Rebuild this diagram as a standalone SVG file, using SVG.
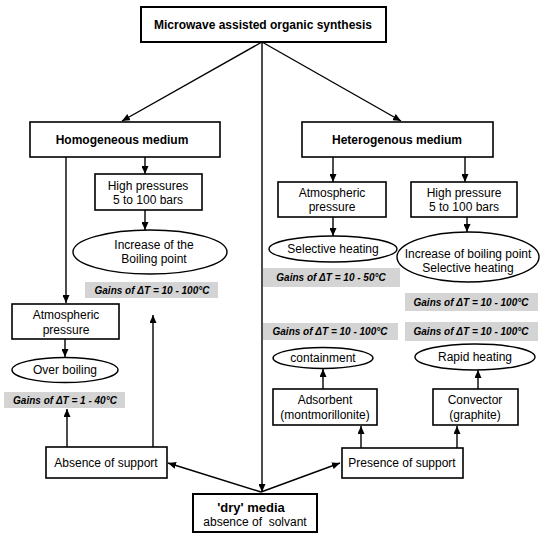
<svg xmlns="http://www.w3.org/2000/svg" width="550" height="538" viewBox="0 0 550 538">
<defs>
<marker id="ah" markerWidth="8" markerHeight="7" refX="8" refY="3.5" orient="auto" markerUnits="userSpaceOnUse">
<path d="M0,0 L8,3.5 L0,7 z" fill="#000"/>
</marker>
<style>
.box{fill:#fff;stroke:#000;stroke-width:1.6}
.tbox{fill:#fff;stroke:#000;stroke-width:2}
.ell{fill:#fff;stroke:#000;stroke-width:1.4}
.gray{fill:#d4d4d4;stroke:none}
.t{font-family:"Liberation Sans",Arial,sans-serif;font-size:12px;fill:#000;text-anchor:middle}
.b{font-weight:bold}
.g{font-family:"Liberation Sans",Arial,sans-serif;font-size:10px;font-weight:bold;font-style:italic;fill:#000;text-anchor:middle}
.c line{stroke:#000;stroke-width:1.4;marker-end:url(#ah)}
</style>
</defs>
<rect width="550" height="538" fill="#fff"/>

<g id="connectors" class="c">
<line x1="262" y1="42" x2="122" y2="121"/>
<line x1="262" y1="42" x2="401" y2="121"/>
<line x1="262" y1="42" x2="262" y2="492"/>
<line x1="66" y1="157" x2="66" y2="303"/>
<line x1="145" y1="157" x2="145" y2="174"/>
<line x1="145" y1="210" x2="145" y2="230"/>
<line x1="65" y1="339" x2="65" y2="357"/>
<line x1="67" y1="447" x2="67" y2="409"/>
<line x1="153" y1="447" x2="153" y2="315"/>
<line x1="261" y1="492" x2="168" y2="463"/>
<line x1="261" y1="492" x2="340" y2="463"/>
<line x1="361" y1="448" x2="361" y2="426"/>
<line x1="457" y1="448" x2="457" y2="426"/>
<line x1="323" y1="389" x2="323" y2="369"/>
<line x1="478" y1="389" x2="478" y2="370"/>
<line x1="333" y1="157" x2="333" y2="182"/>
<line x1="465" y1="157" x2="465" y2="182"/>
<line x1="333" y1="217" x2="333" y2="236"/>
<line x1="467" y1="217" x2="467" y2="232"/>
</g>

<g id="title">
<rect class="tbox" x="141" y="7" width="245" height="35"/>
<text class="t b" x="263" y="29">Microwave assisted organic synthesis</text>
</g>

<g id="homogeneous">
<rect class="box" x="30" y="122" width="190" height="35"/>
<text class="t b" x="122" y="144">Homogeneous medium</text>
</g>

<g id="heterogeneous">
<rect class="box" x="302" y="122" width="191" height="35"/>
<text class="t b" x="397" y="144">Heterogenous medium</text>
</g>

<g id="high-pressures">
<rect class="box" x="95" y="174" width="107" height="36"/>
<text class="t" x="148" y="190">High pressures</text>
<text class="t" x="148" y="204">5 to 100 bars</text>
</g>

<g id="increase-boiling">
<ellipse class="ell" cx="150" cy="252" rx="77" ry="22"/>
<text class="t" x="154" y="249">Increase of the</text>
<text class="t" x="154" y="263">Boiling point</text>
</g>

<g id="gain-homog-hp">
<rect class="gray" x="85" y="282" width="133" height="16"/>
<text class="g" x="152" y="293.5">Gains of ΔT = 10 - 100°C</text>
</g>

<g id="atmos-homog">
<rect class="box" x="12" y="304" width="107" height="35"/>
<text class="t" x="66" y="319">Atmospheric</text>
<text class="t" x="66" y="334">pressure</text>
</g>

<g id="over-boiling">
<ellipse class="ell" cx="65" cy="370" rx="53" ry="12.5"/>
<text class="t" x="65" y="374">Over boiling</text>
</g>

<g id="gain-homog-atm">
<rect class="gray" x="4" y="392" width="121" height="16"/>
<text class="g" x="65" y="403.5">Gains of ΔT = 1 - 40°C</text>
</g>

<g id="absence">
<rect class="box" x="46" y="447" width="121" height="31"/>
<text class="t" x="106" y="467">Absence of support</text>
</g>

<g id="dry-media">
<rect class="tbox" x="193" y="494" width="124" height="38"/>
<text class="t b" x="251" y="512" style="font-size:13px">'dry' media</text>
<text class="t" x="255" y="526" xml:space="preserve">absence of  solvant</text>
</g>

<g id="atmos-hetero">
<rect class="box" x="278" y="182" width="108" height="35"/>
<text class="t" x="332" y="197">Atmospheric</text>
<text class="t" x="332" y="211">pressure</text>
</g>

<g id="high-pressure-hetero">
<rect class="box" x="411" y="182" width="106" height="35"/>
<text class="t" x="464" y="197">High pressure</text>
<text class="t" x="464" y="211">5 to 100 bars</text>
</g>

<g id="selective-heating">
<ellipse class="ell" cx="333" cy="249" rx="64" ry="13"/>
<text class="t" x="333" y="253">Selective heating</text>
</g>

<g id="increase-selective">
<ellipse class="ell" cx="468" cy="257" rx="71" ry="25"/>
<text class="t" x="468" y="258">Increase of boiling point</text>
<text class="t" x="468" y="272">Selective heating</text>
</g>

<g id="gain-hetero-atm">
<rect class="gray" x="263" y="268" width="137" height="19"/>
<text class="g" x="331" y="281">Gains of ΔT = 10 - 50°C</text>
</g>

<g id="gain-hetero-hp">
<rect class="gray" x="405" y="293" width="133" height="18"/>
<text class="g" x="471" y="305.5">Gains of ΔT = 10 - 100°C</text>
</g>

<g id="gain-adsorbent">
<rect class="gray" x="263" y="323" width="135" height="17"/>
<text class="g" x="330" y="335">Gains of ΔT = 10 - 100°C</text>
</g>

<g id="gain-convector">
<rect class="gray" x="405" y="322" width="133" height="19"/>
<text class="g" x="471" y="335">Gains of ΔT = 10 - 100°C</text>
</g>

<g id="containment">
<ellipse class="ell" cx="323" cy="358" rx="50" ry="10.5"/>
<text class="t" x="323" y="362">containment</text>
</g>

<g id="rapid-heating">
<ellipse class="ell" cx="475" cy="357" rx="60" ry="13"/>
<text class="t" x="475" y="361">Rapid heating</text>
</g>

<g id="adsorbent">
<rect class="box" x="273" y="389" width="104" height="36"/>
<text class="t" x="325" y="404">Adsorbent</text>
<text class="t" x="325" y="419">(montmorillonite)</text>
</g>

<g id="convector">
<rect class="box" x="433" y="389" width="85" height="36"/>
<text class="t" x="475" y="404">Convector</text>
<text class="t" x="475" y="419">(graphite)</text>
</g>

<g id="presence">
<rect class="box" x="342" y="448" width="121" height="30"/>
<text class="t" x="402" y="467">Presence of support</text>
</g>
</svg>
